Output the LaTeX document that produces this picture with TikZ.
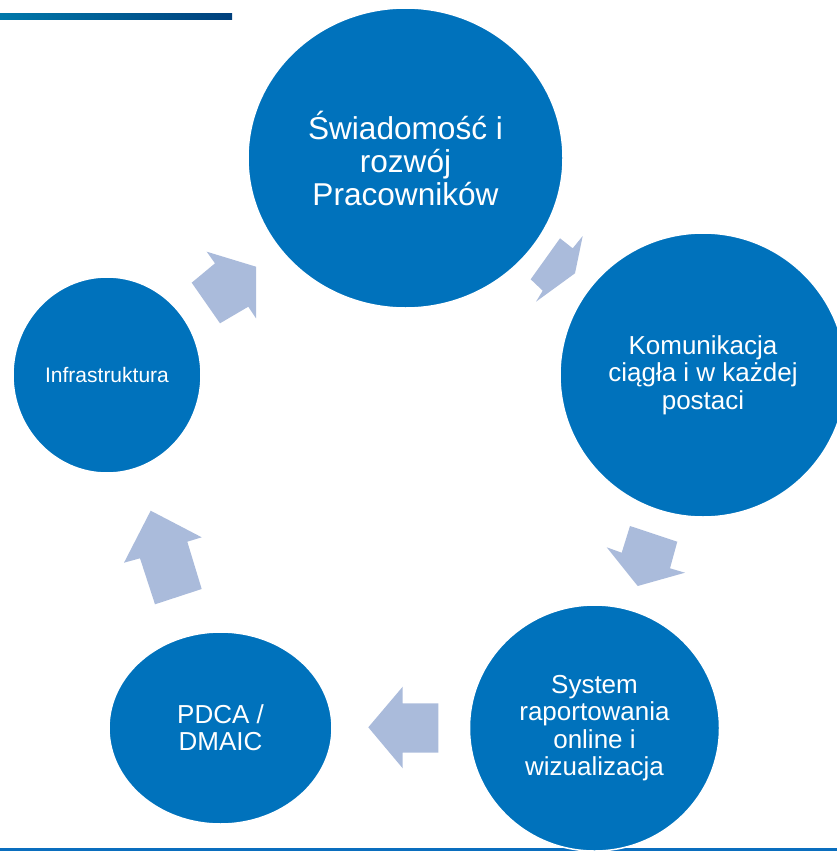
\documentclass[tikz,border=0pt]{standalone}
\usepackage{fontspec}
\setmainfont{Liberation Sans}
\usetikzlibrary{shapes.geometric}
\definecolor{cblue}{RGB}{0,114,188}
\definecolor{afill}{RGB}{170,187,219}
\definecolor{lineL}{RGB}{0,120,170}
\definecolor{lineR}{RGB}{0,64,124}
\definecolor{bline}{RGB}{10,110,190}
\begin{document}
\begin{tikzpicture}[x=1pt,y=-1pt,
  bubble/.style={ellipse, fill=cblue, draw=white, line width=1.5pt, inner sep=0pt, text=white, align=center},
  blockarrow/.style={fill=afill}]
\useasboundingbox (0,0) rectangle (837,851);
\clip (0,0) rectangle (837,851);
% decorative lines
\shade[left color=lineL, right color=lineR] (0,14) rectangle (232,20);
\fill[bline] (0,847.5) rectangle (837,851);
% block arrows
\fill[blockarrow] (256,266.7) -- (256,318.3) -- (248.3,306.7) -- (220,323.3) -- (191.7,282.7) -- (215,263.3) -- (206.7,251.7) -- cycle;
\fill[blockarrow] (582.7,236) -- (575,273.3) -- (536,301.7) -- (542.7,290.7) -- (530.7,279.3) -- (560,238.3) -- (572.7,248.3) -- cycle;
\fill[blockarrow] (630,526) -- (677.3,541.7) -- (670,568.3) -- (685,572.7) -- (637.7,586) -- (606.7,547.3) -- (621.7,552.7) -- cycle;
\fill[blockarrow] (368.3,727.3) -- (402.7,686.7) -- (402.7,703.3) -- (438.3,703.3) -- (438.3,752.7) -- (402.7,752.7) -- (402.7,768.3) -- cycle;
\fill[blockarrow] (150.7,510.7) -- (201.7,537.3) -- (187.3,541.7) -- (201.7,589) -- (155,604.3) -- (140,558.3) -- (124,562.7) -- cycle;
% circles
\node[bubble, minimum width=315pt, minimum height=300pt, font=\fontsize{31.6}{33}\selectfont] (aware) at (405.5,158) {Świadomość i\\rozwój\\Pracowników};
\node[bubble, minimum width=286pt, minimum height=284pt, font=\fontsize{26}{27.5}\selectfont] (comm) at (703,375) {Komunikacja\\ciągła i w każdej\\postaci};
\node[bubble, minimum width=250pt, minimum height=246pt, font=\fontsize{26}{27.5}\selectfont] (report) at (594.5,728) {System\\raportowania\\online i\\wizualizacja};
\node[bubble, minimum width=223pt, minimum height=192pt, font=\fontsize{26}{27}\selectfont] (pdca) at (220.5,728) {PDCA /\\DMAIC};
\node[bubble, minimum width=188pt, minimum height=196pt, font=\fontsize{21}{24}\selectfont] (infra) at (107,375) {Infrastruktura};
\end{tikzpicture}
\end{document}
